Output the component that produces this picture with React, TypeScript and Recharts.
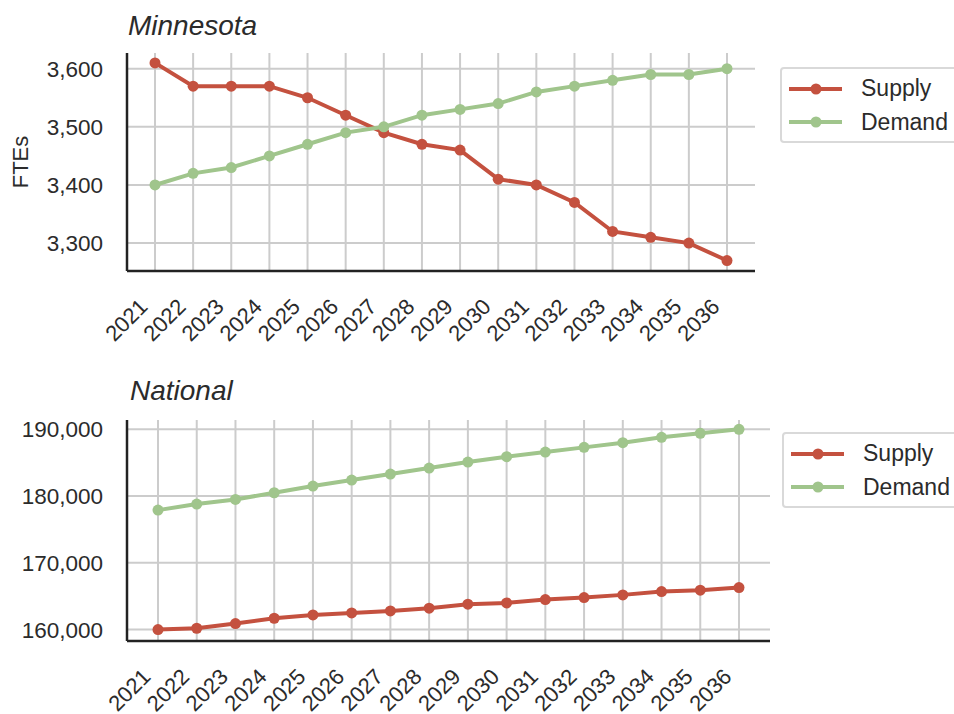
import React from 'react';
import { LineChart, Line, XAxis, YAxis, CartesianGrid, Legend } from 'recharts';

const YEARS = ['2021', '2022', '2023', '2024', '2025', '2026', '2027', '2028', '2029', '2030', '2031', '2032', '2033', '2034', '2035', '2036'];

const MN_SUPPLY = [3610, 3570, 3570, 3570, 3550, 3520, 3490, 3470, 3460, 3410, 3400, 3370, 3320, 3310, 3300, 3270];
const MN_DEMAND = [3400, 3420, 3430, 3450, 3470, 3490, 3500, 3520, 3530, 3540, 3560, 3570, 3580, 3590, 3590, 3600];
const MN_TICKS = [3300, 3400, 3500, 3600];

const US_SUPPLY = [160000, 160200, 160900, 161700, 162200, 162500, 162800, 163200, 163800, 164000, 164500, 164800, 165200, 165700, 165900, 166300];
const US_DEMAND = [177900, 178800, 179500, 180500, 181500, 182400, 183300, 184200, 185100, 185900, 186600, 187300, 188000, 188800, 189400, 190000];
const US_TICKS = [160000, 170000, 180000, 190000];

const SERIES_ORDER = ['Supply', 'Demand'];

const RED = '#c4513f';
const GREEN = '#a0c58c';
const FONT = "'Liberation Sans', Arial, sans-serif";
const INK = '#2b2b2b';

const toRows = (supply: number[], demand: number[]) =>
  YEARS.map((year, i) => ({ year, supply: supply[i], demand: demand[i] }));

const mnData = toRows(MN_SUPPLY, MN_DEMAND);
const usData = toRows(US_SUPPLY, US_DEMAND);

const fmt = (v: number) => v.toLocaleString('en-US');

// rotated year labels, anchored at their right end just below the tick
function YearTick(props: any) {
  const { x, y, payload } = props;
  const ax = x - 6;
  const ay = y + 37;
  return (
    <text x={ax} y={ay} textAnchor="end" fill={INK} fontSize={22} fontFamily={FONT}
      transform={`rotate(-45, ${ax}, ${ay})`}>
      {payload.value}
    </text>
  );
}

function LegendBox(props: any) {
  const items = [...(props.payload || [])].sort(
    (a: any, b: any) => SERIES_ORDER.indexOf(a.value) - SERIES_ORDER.indexOf(b.value));
  return (
    <div style={{
      border: '2px solid #d9d9d9', borderRadius: 4, width: 200, height: 76,
      paddingTop: 3, boxSizing: 'border-box', fontFamily: FONT, background: '#fff',
    }}>
      {items.map((it: any) => (
        <div key={it.value} style={{ display: 'flex', alignItems: 'center', height: 33.5, paddingLeft: 7 }}>
          <svg width={54} height={14} style={{ display: 'block' }}>
            <line x1={0} y1={7} x2={53} y2={7} stroke={it.color} strokeWidth={4} />
            <circle cx={27} cy={7} r={5.5} fill={it.color} />
          </svg>
          <span style={{ marginLeft: 18, fontSize: 23, color: INK }}>{it.value}</span>
        </div>
      ))}
    </div>
  );
}

function Panel(props: {
  data: any[]; ticks: number[]; domain: [number, number]; top: number; height: number;
  margin: any; xHeight: number; pad: number; legendPos: { left: number; top: number }; yLabel?: string;
}) {
  const { data, ticks, domain, top, height, margin, xHeight, pad, legendPos, yLabel } = props;
  return (
    <div style={{ position: 'absolute', left: 0, top }}>
      <LineChart width={954} height={height} data={data} margin={margin}>
        <CartesianGrid stroke="#cccccc" strokeWidth={2} syncWithTicks />
        <XAxis dataKey="year" height={xHeight} interval={0} padding={{ left: pad, right: pad }}
          axisLine={{ stroke: '#222', strokeWidth: 2.5 }} tickLine={false} tickSize={0} tickMargin={0}
          tick={<YearTick />} />
        <YAxis type="number" width={127} domain={domain} ticks={ticks} allowDataOverflow
          tickFormatter={fmt} axisLine={{ stroke: '#222', strokeWidth: 2.5 }} tickLine={false}
          tickSize={0} tickMargin={24}
          tick={{ fill: INK, fontSize: 22.5, fontFamily: FONT }}
          label={yLabel ? { value: yLabel, angle: -90, position: 'center', dx: -43, fill: INK, fontSize: 22, fontFamily: FONT } : undefined} />
        <Legend layout="vertical" align="center" verticalAlign="middle" content={<LegendBox />}
          wrapperStyle={{ position: 'absolute', left: legendPos.left, top: legendPos.top, width: 200 }} />
        <Line dataKey="supply" name="Supply" stroke={RED} strokeWidth={4} isAnimationActive={false}
          dot={{ r: 5.5, fill: RED, stroke: RED, strokeWidth: 0 }} activeDot={false} />
        <Line dataKey="demand" name="Demand" stroke={GREEN} strokeWidth={4} isAnimationActive={false}
          dot={{ r: 5.5, fill: GREEN, stroke: GREEN, strokeWidth: 0 }} activeDot={false} />
      </LineChart>
    </div>
  );
}

const titleStyle: React.CSSProperties = {
  position: 'absolute', fontFamily: FONT, fontStyle: 'italic', fontSize: 28, lineHeight: 1, color: INK,
};

export default function App() {
  return (
    <div style={{ position: 'absolute', left: 0, top: 0, width: 954, height: 714, overflow: 'hidden', background: '#fff' }}>
      <div style={{ ...titleStyle, left: 128, top: 11.8 }}>Minnesota</div>
      <Panel data={mnData} ticks={MN_TICKS} domain={[3252, 3627]} top={0} height={350}
        margin={{ top: 53, right: 199, bottom: 0, left: 0 }} xHeight={79} pad={28}
        legendPos={{ left: 780, top: 67 }} yLabel="FTEs" />
      <div style={{ ...titleStyle, left: 130, top: 376.8 }}>National</div>
      <Panel data={usData} ticks={US_TICKS} domain={[158290, 191400]} top={360} height={354}
        margin={{ top: 60, right: 184, bottom: 0, left: 0 }} xHeight={73} pad={31}
        legendPos={{ left: 782, top: 72 }} />
    </div>
  );
}
